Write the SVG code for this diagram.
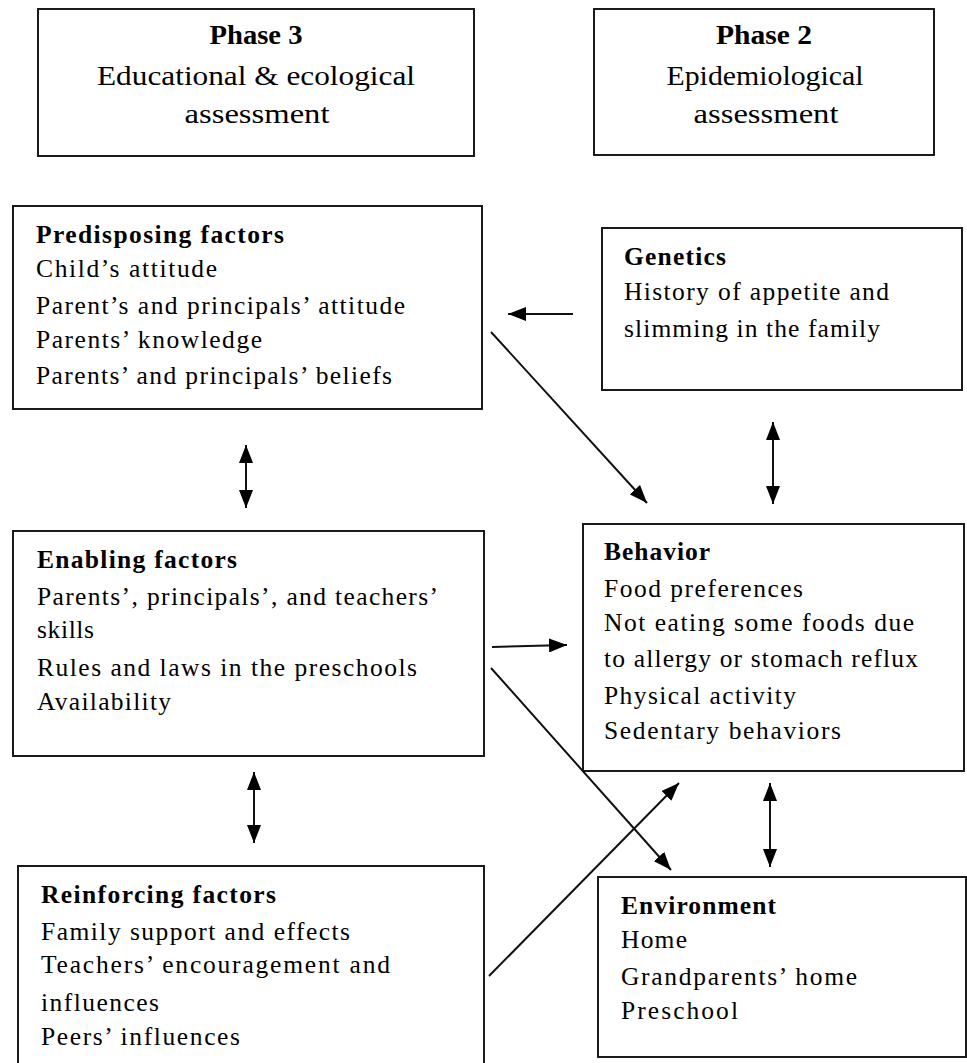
<svg xmlns="http://www.w3.org/2000/svg" width="967" height="1063" viewBox="0 0 967 1063">
<style>
.box{fill:#fff;stroke:#1a1a1a;stroke-width:2}
text{font-family:"Liberation Serif","Times New Roman",serif;fill:#000}
.hd{font-size:27px}
.b{font-weight:bold}
.t{font-size:25.5px}
.c{text-anchor:middle}
.ln{stroke:#111;stroke-width:2;fill:none}
</style>
<defs>
<marker id="ah" markerUnits="userSpaceOnUse" markerWidth="18" markerHeight="14" refX="18" refY="7" orient="auto-start-reverse" viewBox="0 0 18 14">
<path d="M0,0 L18,7 L0,14 z" fill="#000"/>
</marker>
</defs>
<rect width="967" height="1063" fill="#fff"/>
<g id="phase3">
<rect class="box" x="38" y="9" width="436" height="147"/>
<text class="hd b c" x="256" y="44" textLength="93" lengthAdjust="spacingAndGlyphs">Phase 3</text>
<text class="hd c" x="256" y="85" textLength="318" lengthAdjust="spacingAndGlyphs">Educational &amp; ecological</text>
<text class="hd c" x="257" y="123" textLength="145" lengthAdjust="spacingAndGlyphs">assessment</text>
</g>
<g id="phase2">
<rect class="box" x="594" y="9" width="340" height="146"/>
<text class="hd b c" x="764" y="44" textLength="96" lengthAdjust="spacingAndGlyphs">Phase 2</text>
<text class="hd c" x="765" y="85" textLength="197" lengthAdjust="spacingAndGlyphs">Epidemiological</text>
<text class="hd c" x="766" y="123" textLength="145" lengthAdjust="spacingAndGlyphs">assessment</text>
</g>
<g id="predisposing">
<rect class="box" x="13" y="206" width="469" height="203"/>
<text class="t b" x="36" y="243" textLength="248" lengthAdjust="spacing">Predisposing  factors</text>
<text class="t" x="36" y="277" textLength="181" lengthAdjust="spacing">Child’s  attitude</text>
<text class="t" x="36" y="314" textLength="369" lengthAdjust="spacing">Parent’s and principals’  attitude</text>
<text class="t" x="36" y="348" textLength="226" lengthAdjust="spacing">Parents’ knowledge</text>
<text class="t" x="36" y="384" textLength="356" lengthAdjust="spacing">Parents’ and principals’ beliefs</text>
</g>
<g id="genetics">
<rect class="box" x="602" y="228" width="360" height="162"/>
<text class="t b" x="624" y="265" textLength="102" lengthAdjust="spacing">Genetics</text>
<text class="t" x="624" y="300" textLength="265" lengthAdjust="spacing">History of appetite and</text>
<text class="t" x="624" y="337" textLength="256" lengthAdjust="spacing">slimming  in the family</text>
</g>
<g id="enabling">
<rect class="box" x="13" y="531" width="471" height="225"/>
<text class="t b" x="37" y="568" textLength="200" lengthAdjust="spacing">Enabling  factors</text>
<text class="t" x="37" y="605" textLength="401" lengthAdjust="spacing">Parents’, principals’,  and teachers’</text>
<text class="t" x="37" y="638" textLength="57" lengthAdjust="spacing">skills</text>
<text class="t" x="37" y="676" textLength="380" lengthAdjust="spacing">Rules  and laws in the preschools</text>
<text class="t" x="37" y="710" textLength="134" lengthAdjust="spacing">Availability</text>
</g>
<g id="behavior">
<rect class="box" x="583" y="524" width="381" height="247"/>
<text class="t b" x="604" y="560" textLength="106" lengthAdjust="spacing">Behavior</text>
<text class="t" x="604" y="597" textLength="199" lengthAdjust="spacing">Food preferences</text>
<text class="t" x="604" y="631" textLength="310" lengthAdjust="spacing">Not eating some foods due</text>
<text class="t" x="604" y="667" textLength="314" lengthAdjust="spacing">to allergy or stomach reflux</text>
<text class="t" x="604" y="704" textLength="192" lengthAdjust="spacing">Physical activity</text>
<text class="t" x="604" y="739" textLength="237" lengthAdjust="spacing">Sedentary behaviors</text>
</g>
<g id="reinforcing">
<rect class="box" x="18" y="866" width="466" height="202"/>
<text class="t b" x="41" y="903" textLength="235" lengthAdjust="spacing">Reinforcing  factors</text>
<text class="t" x="41" y="940" textLength="309" lengthAdjust="spacing">Family  support and effects</text>
<text class="t" x="41" y="973" textLength="349" lengthAdjust="spacing">Teachers’ encouragement and</text>
<text class="t" x="41" y="1011" textLength="118" lengthAdjust="spacing">influences</text>
<text class="t" x="41" y="1045" textLength="199" lengthAdjust="spacing">Peers’ influences</text>
</g>
<g id="environment">
<rect class="box" x="598" y="877" width="368" height="180"/>
<text class="t b" x="621" y="914" textLength="155" lengthAdjust="spacing">Environment</text>
<text class="t" x="621" y="948" textLength="66" lengthAdjust="spacing">Home</text>
<text class="t" x="621" y="985" textLength="236" lengthAdjust="spacing">Grandparents’ home</text>
<text class="t" x="621" y="1019" textLength="117" lengthAdjust="spacing">Preschool</text>
</g>
<g id="connectors">
<line class="ln" x1="573" y1="314" x2="508" y2="314" marker-end="url(#ah)"/>
<line class="ln" x1="491" y1="332" x2="647" y2="503" marker-end="url(#ah)"/>
<line class="ln" x1="246" y1="445" x2="246" y2="508" marker-start="url(#ah)" marker-end="url(#ah)"/>
<line class="ln" x1="773" y1="422" x2="773" y2="504" marker-start="url(#ah)" marker-end="url(#ah)"/>
<line class="ln" x1="492" y1="647" x2="567" y2="645" marker-end="url(#ah)"/>
<line class="ln" x1="491" y1="668" x2="671" y2="870" marker-end="url(#ah)"/>
<line class="ln" x1="489" y1="976" x2="679" y2="783" marker-end="url(#ah)"/>
<line class="ln" x1="254" y1="772" x2="254" y2="843" marker-start="url(#ah)" marker-end="url(#ah)"/>
<line class="ln" x1="770" y1="783" x2="770" y2="867" marker-start="url(#ah)" marker-end="url(#ah)"/>
</g>
</svg>
